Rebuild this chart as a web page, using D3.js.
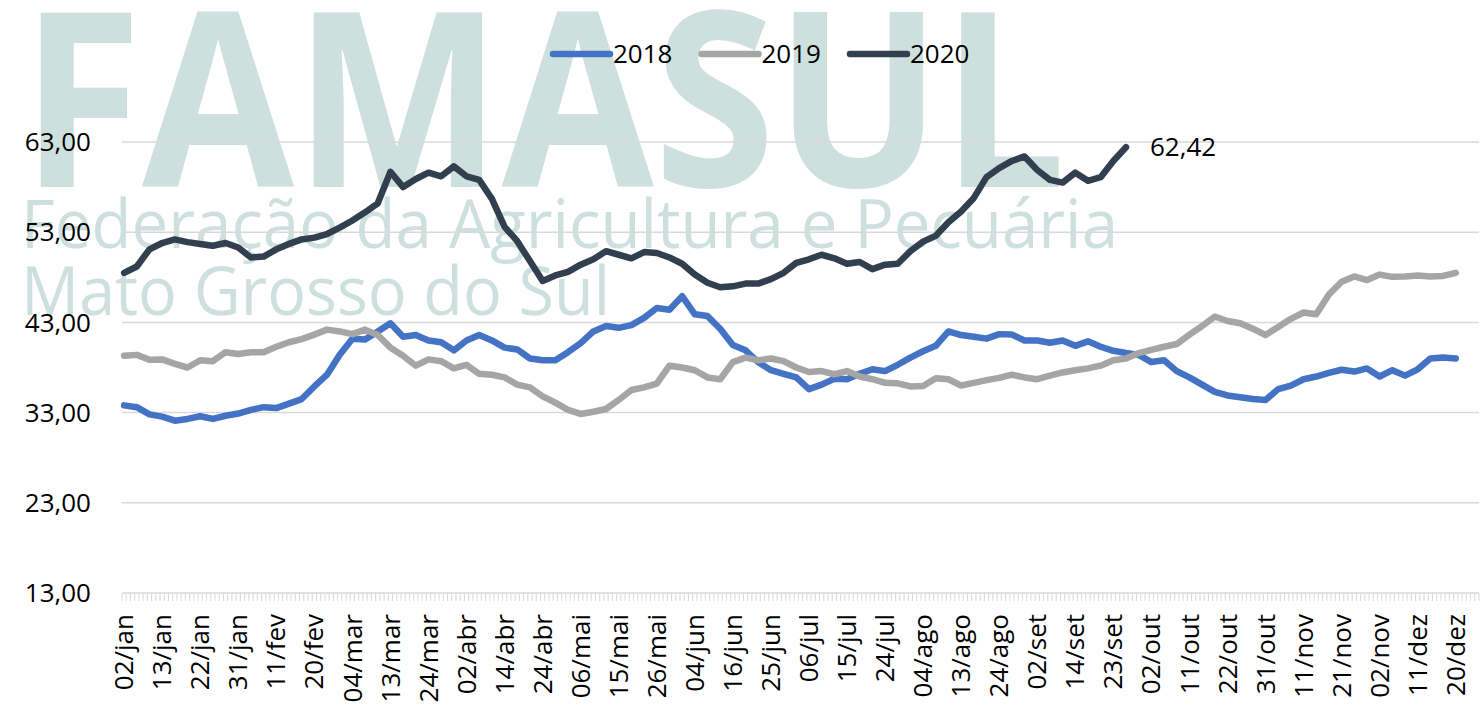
<!DOCTYPE html>
<html>
<head>
<meta charset="utf-8">
<script src="https://cdn.jsdelivr.net/npm/d3@7"></script>
<style>
  body { margin: 0; background: #fff; }
  text { font-family: "Open Sans", sans-serif; }
</style>
</head>
<body>
<svg id="chart" width="1483" height="708"></svg>
<script>
// categories: one per day in the sheet, labels shown every 9th
const categoryCount = 321;
const labelStep = 9;
const tickLabels = ["02/jan","13/jan","22/jan","31/jan","11/fev","20/fev","04/mar","13/mar","24/mar","02/abr",
  "14/abr","24/abr","06/mai","15/mai","26/mai","04/jun","16/jun","25/jun","06/jul","15/jul",
  "24/jul","04/ago","13/ago","24/ago","02/set","14/set","23/set","02/out","11/out","22/out",
  "31/out","11/nov","21/nov","02/nov","11/dez","20/dez"];
const yTicks = [13, 23, 33, 43, 53, 63];

// values read every 3rd category
const sampleStep = 3;
const s2018 = [33.8,33.6,32.8,32.55,32.1,32.3,32.6,32.3,32.65,32.9,
  33.3,33.6,33.5,34.0,34.5,35.9,37.2,39.4,41.2,41.1,
  42.0,42.9,41.4,41.6,41.0,40.8,39.9,41.0,41.6,41.0,
  40.2,40.0,39.0,38.8,38.8,39.7,40.7,42.0,42.6,42.4,
  42.7,43.5,44.6,44.4,45.9,43.9,43.7,42.3,40.5,39.9,
  38.6,37.7,37.3,36.9,35.6,36.1,36.75,36.7,37.3,37.8,
  37.6,38.3,39.1,39.8,40.4,42.0,41.6,41.4,41.2,41.7,
  41.65,41.0,41.0,40.75,41.0,40.4,40.9,40.3,39.85,39.6,
  39.4,38.6,38.8,37.6,36.9,36.1,35.3,34.9,34.7,34.5,
  34.4,35.6,36.0,36.7,37.0,37.4,37.75,37.55,37.9,37.0,
  37.7,37.1,37.8,39.0,39.1,39.0];
const s2019 = [39.3,39.4,38.85,38.9,38.4,38.0,38.8,38.7,39.7,39.5,
  39.7,39.7,40.3,40.8,41.15,41.65,42.2,42.0,41.7,42.2,
  41.6,40.2,39.3,38.2,38.9,38.7,37.9,38.3,37.3,37.2,
  36.9,36.1,35.8,34.8,34.1,33.3,32.85,33.1,33.4,34.4,
  35.5,35.8,36.2,38.2,38.0,37.7,36.9,36.7,38.6,39.1,
  38.8,39.0,38.7,38.0,37.5,37.6,37.25,37.6,37.0,36.7,
  36.3,36.25,35.9,35.95,36.8,36.7,36.0,36.3,36.6,36.85,
  37.2,36.9,36.7,37.1,37.45,37.7,37.9,38.2,38.8,39.0,
  39.6,39.95,40.3,40.6,41.65,42.6,43.65,43.15,42.9,42.3,
  41.6,42.5,43.4,44.1,43.9,46.1,47.5,48.1,47.7,48.3,
  48.05,48.1,48.2,48.1,48.15,48.5];
const s2020 = [48.5,49.2,51.1,51.8,52.2,51.9,51.7,51.5,51.8,51.3,
  50.2,50.3,51.1,51.7,52.2,52.4,52.8,53.5,54.3,55.2,
  56.2,59.7,58.0,58.9,59.6,59.2,60.3,59.2,58.8,56.7,
  53.6,52.0,49.8,47.6,48.2,48.6,49.4,50.0,50.9,50.5,
  50.1,50.8,50.7,50.2,49.5,48.3,47.4,46.9,47.0,47.3,
  47.3,47.8,48.5,49.6,50.0,50.5,50.1,49.5,49.7,48.9,
  49.4,49.5,50.9,51.95,52.6,54.1,55.3,56.8,59.1,60.1,
  60.9,61.4,59.9,58.8,58.5,59.6,58.7,59.1,60.9,62.42];

const seriesNames = ["2018", "2019", "2020"];
const seriesValues = [s2018, s2019, s2020];
const seriesColors = ["#4472c4", "#a5a5a5", "#323f4f"];

const svg = d3.select("#chart");
const plotLeft = 122, plotRight = 1479, plotTop = 142, plotBottom = 593;

const fmt = d3.formatLocale({decimal: ",", thousands: ".", grouping: [3], currency: ["R$", ""]}).format(".2f");

// watermark
const wm = svg.append("g").attr("fill", "#cee0dd");
wm.append("text").attr("x", 21).attr("y", 187)
  .attr("font-size", 244).attr("font-weight", 700)
  .attr("textLength", 1045).attr("lengthAdjust", "spacingAndGlyphs")
  .text("FAMASUL");
wm.append("text").attr("x", 21).attr("y", 248)
  .attr("font-size", 67)
  .attr("textLength", 1097).attr("lengthAdjust", "spacingAndGlyphs")
  .text("Federação da Agricultura e Pecuária");
wm.append("text").attr("x", 21).attr("y", 315)
  .attr("font-size", 67)
  .attr("textLength", 589).attr("lengthAdjust", "spacingAndGlyphs")
  .text("Mato Grosso do Sul");

const x = d3.scaleBand().domain(d3.range(categoryCount)).range([plotLeft, plotRight]);
const y = d3.scaleLinear().domain([13, 63]).range([plotBottom, plotTop]);

// gridlines + y labels
svg.append("g").selectAll("line").data(yTicks).enter().append("line")
  .attr("x1", plotLeft).attr("x2", plotRight)
  .attr("y1", d => y(d)).attr("y2", d => y(d))
  .style("stroke", "#d9d9d9").style("stroke-width", 1.5);

svg.append("g").selectAll("text").data(yTicks).enter().append("text")
  .attr("x", 91).attr("y", d => y(d)).attr("dy", "0.35em")
  .attr("text-anchor", "end").style("font-size", "26px").style("fill", "#000")
  .text(d => fmt(d));

// category tick marks at band edges
svg.append("g").selectAll("line").data(d3.range(categoryCount + 1)).enter().append("line")
  .attr("x1", d => plotLeft + d * x.step()).attr("x2", d => plotLeft + d * x.step())
  .attr("y1", plotBottom).attr("y2", plotBottom + 8)
  .style("stroke", "#d9d9d9").style("stroke-width", 1);

// x labels
const labelIdx = d3.range(0, categoryCount, labelStep).slice(0, tickLabels.length);
svg.append("g").selectAll("text").data(labelIdx).enter().append("text")
  .attr("transform", d => "translate(" + (x(d) + x.bandwidth() / 2) + "," + 614 + ") rotate(-90)")
  .attr("dy", "0.35em").attr("text-anchor", "end")
  .style("font-size", "26px").style("fill", "#000")
  .text((d, i) => tickLabels[i]);

// lines
const line = d3.line()
  .x((d, i) => x(i * sampleStep) + x.bandwidth() / 2)
  .y(d => y(d));

svg.append("g").selectAll("path").data(seriesValues).enter().append("path")
  .attr("d", d => line(d))
  .style("fill", "none")
  .style("stroke", (d, i) => seriesColors[i])
  .style("stroke-width", 6.5)
  .style("stroke-linejoin", "round")
  .style("stroke-linecap", "round");

// end label for 2020
const lastIdx = (s2020.length - 1) * sampleStep;
svg.append("text")
  .attr("x", x(lastIdx) + x.bandwidth() / 2 + 24)
  .attr("y", y(s2020[s2020.length - 1])).attr("dy", "0.35em")
  .style("font-size", "26px").style("fill", "#000")
  .text(fmt(s2020[s2020.length - 1]));

// legend
const legend = svg.append("g").selectAll("g").data(seriesNames).enter().append("g")
  .attr("transform", (d, i) => "translate(" + (553 + i * 148.5) + ",54)");
legend.append("line").attr("x1", 0).attr("x2", 57).attr("y1", 0).attr("y2", 0)
  .style("stroke", (d, i) => seriesColors[i]).style("stroke-width", 6.5).style("stroke-linecap", "round");
legend.append("text").attr("x", 60).attr("dy", "0.35em")
  .style("font-size", "26px").style("fill", "#000")
  .text(d => d);
</script>
</body>
</html>
